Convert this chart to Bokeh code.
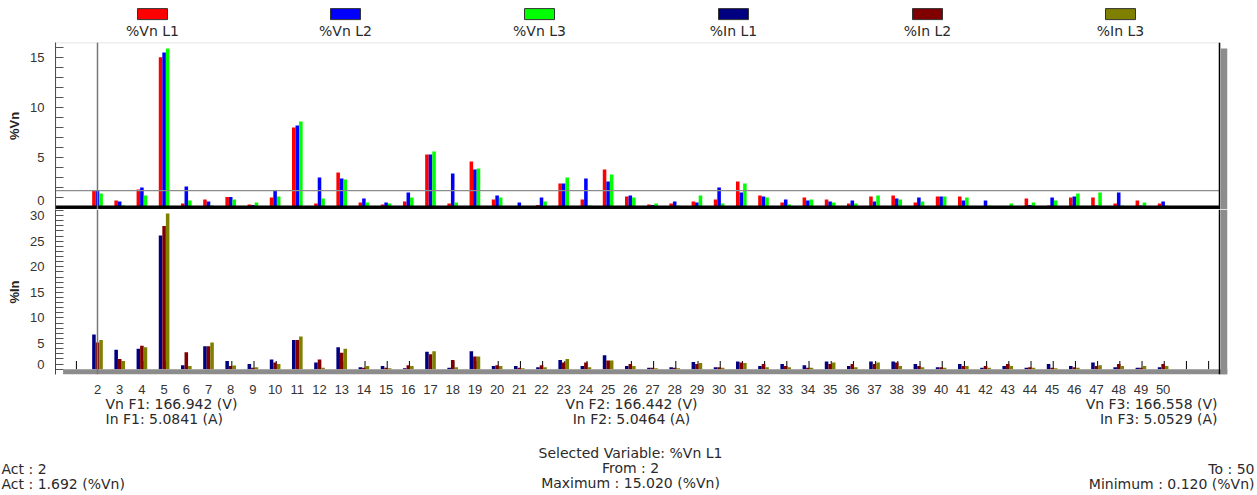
import numpy as np
from bokeh.plotting import figure
from bokeh.layouts import column
from bokeh.models import (Range1d, Span, BoxAnnotation, FixedTicker, CustomJSTickFormatter)
from bokeh.core.properties import value
from bokeh.embed import file_html
from bokeh.resources import INLINE

# ---------------- data ----------------
harmonics = list(range(2, 51))

vn_labels = ["%Vn L1", "%Vn L2", "%Vn L3"]
in_labels = ["%In L1", "%In L2", "%In L3"]

vn_l1 = [1.69, 0.7, 1.8, 15.02, 0.4, 0.8, 1.05, 0.3, 1.0, 8.0, 0.4, 3.5, 0.5, 0.3, 0.6, 5.3, 0.4, 4.6, 0.8, 0.15,
         0.25, 2.4, 0.8, 3.8, 1.1, 0.3, 0.4, 0.6, 0.8, 2.6, 1.2, 0.5, 1.0, 0.8, 0.4, 1.1, 1.2, 0.5, 1.1, 1.1,
         0.15, 0.12, 0.9, 0.2, 1.0, 1.0, 0.4, 0.7, 0.4]
vn_l2 = [1.7, 0.6, 2.0, 15.5, 2.1, 0.6, 1.05, 0.25, 1.7, 8.2, 3.0, 2.9, 0.9, 0.5, 1.5, 5.3, 3.4, 3.8, 1.2, 0.5,
         1.0, 2.4, 2.9, 2.6, 1.2, 0.25, 0.6, 0.5, 2.0, 1.5, 1.1, 0.8, 0.7, 0.6, 0.7, 0.6, 0.9, 1.0, 1.1, 0.7,
         0.7, 0.15, 0.25, 1.0, 1.1, 0.2, 1.5, 0.2, 0.6]
vn_l3 = [1.4, 0.2, 1.2, 15.9, 0.7, 0.2, 0.8, 0.5, 1.1, 8.6, 0.9, 2.8, 0.5, 0.4, 1.0, 5.6, 0.5, 3.9, 1.0, 0.1,
         0.6, 3.0, 0.2, 3.3, 1.0, 0.4, 0.2, 1.2, 0.4, 2.4, 1.0, 0.3, 0.8, 0.5, 0.4, 1.2, 0.8, 0.6, 1.1, 1.0,
         0.2, 0.4, 0.5, 0.7, 1.4, 1.5, 0.2, 0.5, 0.2]

in_l1 = [6.8, 3.8, 4.0, 26.1, 0.75, 4.5, 1.6, 1.0, 1.9, 5.7, 1.3, 4.3, 0.4, 0.6, 0.2, 3.4, 0.3, 3.5, 0.6, 0.6,
         0.4, 1.8, 0.6, 2.7, 0.6, 0.3, 0.4, 1.4, 0.4, 1.5, 0.6, 1.0, 0.75, 1.5, 0.6, 1.5, 1.5, 1.0, 0.4, 1.0,
         0.3, 0.6, 0.3, 1.0, 0.6, 1.3, 0.4, 0.3, 0.4]
in_l2 = [5.2, 2.0, 4.6, 28.0, 3.3, 4.5, 0.6, 0.3, 1.3, 5.7, 1.9, 3.2, 0.3, 0.3, 0.75, 2.9, 1.8, 2.5, 0.75, 0.3,
         0.75, 1.3, 1.3, 1.7, 1.0, 0.3, 0.3, 1.0, 0.4, 1.3, 1.0, 0.6, 0.3, 1.0, 1.0, 1.0, 1.3, 0.6, 0.4, 0.6,
         0.6, 1.0, 0.4, 0.3, 0.4, 0.6, 1.0, 0.3, 1.0]
in_l3 = [5.7, 1.6, 4.3, 30.4, 0.6, 5.2, 0.7, 0.4, 1.0, 6.4, 0.3, 4.0, 0.6, 0.2, 0.6, 3.5, 0.4, 2.5, 0.6, 0.2,
         0.4, 2.0, 0.4, 1.7, 0.6, 0.2, 0.2, 1.2, 0.3, 1.2, 0.4, 0.4, 0.3, 1.3, 0.4, 1.3, 0.6, 0.4, 0.3, 0.6,
         0.3, 0.6, 0.3, 0.2, 0.3, 0.75, 0.6, 0.6, 0.6]

vn_ticks = [0, 5, 10, 15]
in_ticks = [0, 5, 10, 15, 20, 25, 30]

vn_colors = ["#ff0000", "#0000ff", "#00ff00"]
in_colors = ["#000080", "#800000", "#808000"]

act_harmonic = 2
act_value = 1.692
vn_fund = ["166.942", "166.442", "166.558"]
in_fund = ["5.0841", "5.0464", "5.0529"]
selected_var = "%Vn L1"
from_h, to_h = 2, 50
max_txt, min_txt = "15.020", "0.120"

# ---------------- style ----------------
W = 1257
X0, X1 = 0.108, 52.9
XR = 52.54            # right frame border (data units)
TICK_FONT = "Liberation Sans"
TXT_FONT = "DejaVu Sans"
TXT_COLOR = "#2a2a2a"
GRAY = "#8c8c8c"
offsets = [-0.16, 0.0, 0.16]
BAR_W = 0.16

xr = Range1d(X0, X1)


def style_yaxis(p, label, ticks, zero_lift, top_minor):
    """zero_lift: the original draws its '0' label a few px above the baseline."""
    ax = p.yaxis[0]
    label_pos = [t if t != 0 else zero_lift for t in ticks]
    ax.ticker = FixedTicker(ticks=label_pos, minor_ticks=list(range(0, top_minor + 1)))
    ax.formatter = CustomJSTickFormatter(code="return tick < 1 ? '0' : tick.toFixed(0);")
    ax.axis_line_color = "#444444"
    ax.major_tick_in = 0
    ax.major_tick_out = 0
    ax.major_tick_line_color = None
    ax.minor_tick_in = 8
    ax.minor_tick_out = 0
    ax.minor_tick_line_color = "#555555"
    ax.major_label_standoff = 11
    ax.major_label_text_font = TICK_FONT
    ax.major_label_text_font_size = "13px"
    ax.major_label_text_color = "#333333"
    ax.axis_label = label
    ax.axis_label_text_font = TICK_FONT
    ax.axis_label_text_font_size = "13px"
    ax.axis_label_text_font_style = "bold"
    ax.axis_label_text_color = "#222222"
    ax.axis_label_standoff = 5


# ---------------- legend strip ----------------
leg = figure(width=W, height=41, x_range=Range1d(0, W), y_range=Range1d(41, 0),
             x_axis_type=None, y_axis_type=None, toolbar_location=None,
             output_backend="svg", min_border=0, outline_line_color=None, frame_align=False)
leg_x = [152, 345, 539, 733, 927, 1120]
leg.rect(x=leg_x, y=13.6, width=30, height=11, fill_color=vn_colors + in_colors,
         line_color="#333333", line_width=1)
leg.text(x=leg_x, y=30, text=vn_labels + in_labels, text_align="center", text_baseline="middle",
         text_font=value(TXT_FONT), text_font_size="14px", text_color=TXT_COLOR)

# ---------------- top chart (%Vn) ----------------
top = figure(width=W, height=168, x_range=xr, y_range=Range1d(-0.2, 16.5),
             toolbar_location=None, output_backend="svg", x_axis_location=None,
             min_border_left=55, min_border_right=30, min_border_top=1, min_border_bottom=0,
             outline_line_color=None, background_fill_color="white")
top.grid.visible = False
style_yaxis(top, "%Vn", vn_ticks, 0.7, 16)
hx = np.array(harmonics, dtype=float)
for vals, col, off in zip([vn_l1, vn_l2, vn_l3], vn_colors, offsets):
    top.vbar(x=hx + off, top=vals, bottom=0, width=BAR_W, fill_color=col, line_color=None)
top.segment(x0=[X0], x1=[XR], y0=[act_value], y1=[act_value], line_color=GRAY, line_width=1.2)
top.add_layout(BoxAnnotation(top=0.2, right=XR, fill_color="black", fill_alpha=1, line_color=None))
top.add_layout(BoxAnnotation(right=XR, fill_alpha=0, line_color="#8a8a8a", line_width=1.5))
top.add_layout(Span(location=XR, dimension="height", line_color="black", line_width=1.5))
top.add_layout(BoxAnnotation(left=XR + 0.05, top=15.9, fill_color=GRAY, fill_alpha=1, line_color=None))
top.add_layout(Span(location=act_harmonic, dimension="height", line_color="#777777", line_width=1.5))

# ---------------- bottom chart (%In) ----------------
bot = figure(width=W, height=187, x_range=xr, y_range=Range1d(-1.04, 31.2),
             toolbar_location=None, output_backend="svg",
             min_border_left=55, min_border_right=30, min_border_top=0, min_border_bottom=19,
             outline_line_color=None, background_fill_color="white")
bot.grid.visible = False
style_yaxis(bot, "%In", in_ticks, 0.94, 31)
xa = bot.xaxis[0]
xa.ticker = FixedTicker(ticks=harmonics)
xa.axis_line_color = None
xa.major_tick_line_color = None
xa.minor_tick_line_color = None
xa.major_label_standoff = 4
xa.major_label_text_font = TICK_FONT
xa.major_label_text_font_size = "13px"
xa.major_label_text_color = "#333333"

stub_x = np.arange(1, 53) + 0.05
bot.segment(x0=stub_x, x1=stub_x, y0=0, y1=1.6, line_color="black", line_width=1)
for vals, col, off in zip([in_l1, in_l2, in_l3], in_colors, offsets):
    bot.vbar(x=hx + off, top=vals, bottom=0, width=BAR_W, fill_color=col, line_color=None)
bot.add_layout(BoxAnnotation(top=0, left=0.45, fill_color=GRAY, fill_alpha=1, line_color=None))
bot.add_layout(Span(location=XR, dimension="height", line_color="black", line_width=1.5))
bot.add_layout(BoxAnnotation(left=XR + 0.05, fill_color=GRAY, fill_alpha=1, line_color=None))
bot.add_layout(Span(location=act_harmonic, dimension="height", line_color="#777777", line_width=1.5))

# ---------------- info text ----------------
txt = figure(width=W, height=99, x_range=Range1d(0, W), y_range=Range1d(495, 396),
             x_axis_type=None, y_axis_type=None, toolbar_location=None,
             output_backend="svg", min_border=0, outline_line_color=None, frame_align=False)
common = dict(text_baseline="middle", text_font=value(TXT_FONT), text_font_size="14px",
              text_color=TXT_COLOR)
txt.text(x=[105, 105, 1, 1], y=[403, 418, 468, 483],
         text=[f"Vn F1: {vn_fund[0]} (V)", f"In F1: {in_fund[0]} (A)",
               f"Act : {act_harmonic}", f"Act : {act_value:.3f} (%Vn)"],
         text_align="left", **common)
txt.text(x=[631, 631, 630, 630, 630], y=[403, 418, 452, 467, 482],
         text=[f"Vn F2: {vn_fund[1]} (V)", f"In F2: {in_fund[1]} (A)",
               f"Selected Variable: {selected_var}", f"From : {from_h}",
               f"Maximum : {max_txt} (%Vn)"],
         text_align="center", **common)
txt.text(x=[1217, 1217, 1254, 1254], y=[403, 418, 468, 483],
         text=[f"Vn F3: {vn_fund[2]} (V)", f"In F3: {in_fund[2]} (A)",
               f"To : {to_h}", f"Minimum : {min_txt} (%Vn)"],
         text_align="right", **common)

layout = column(leg, top, bot, txt)
open("out.html", "w").write(file_html(layout, INLINE))
